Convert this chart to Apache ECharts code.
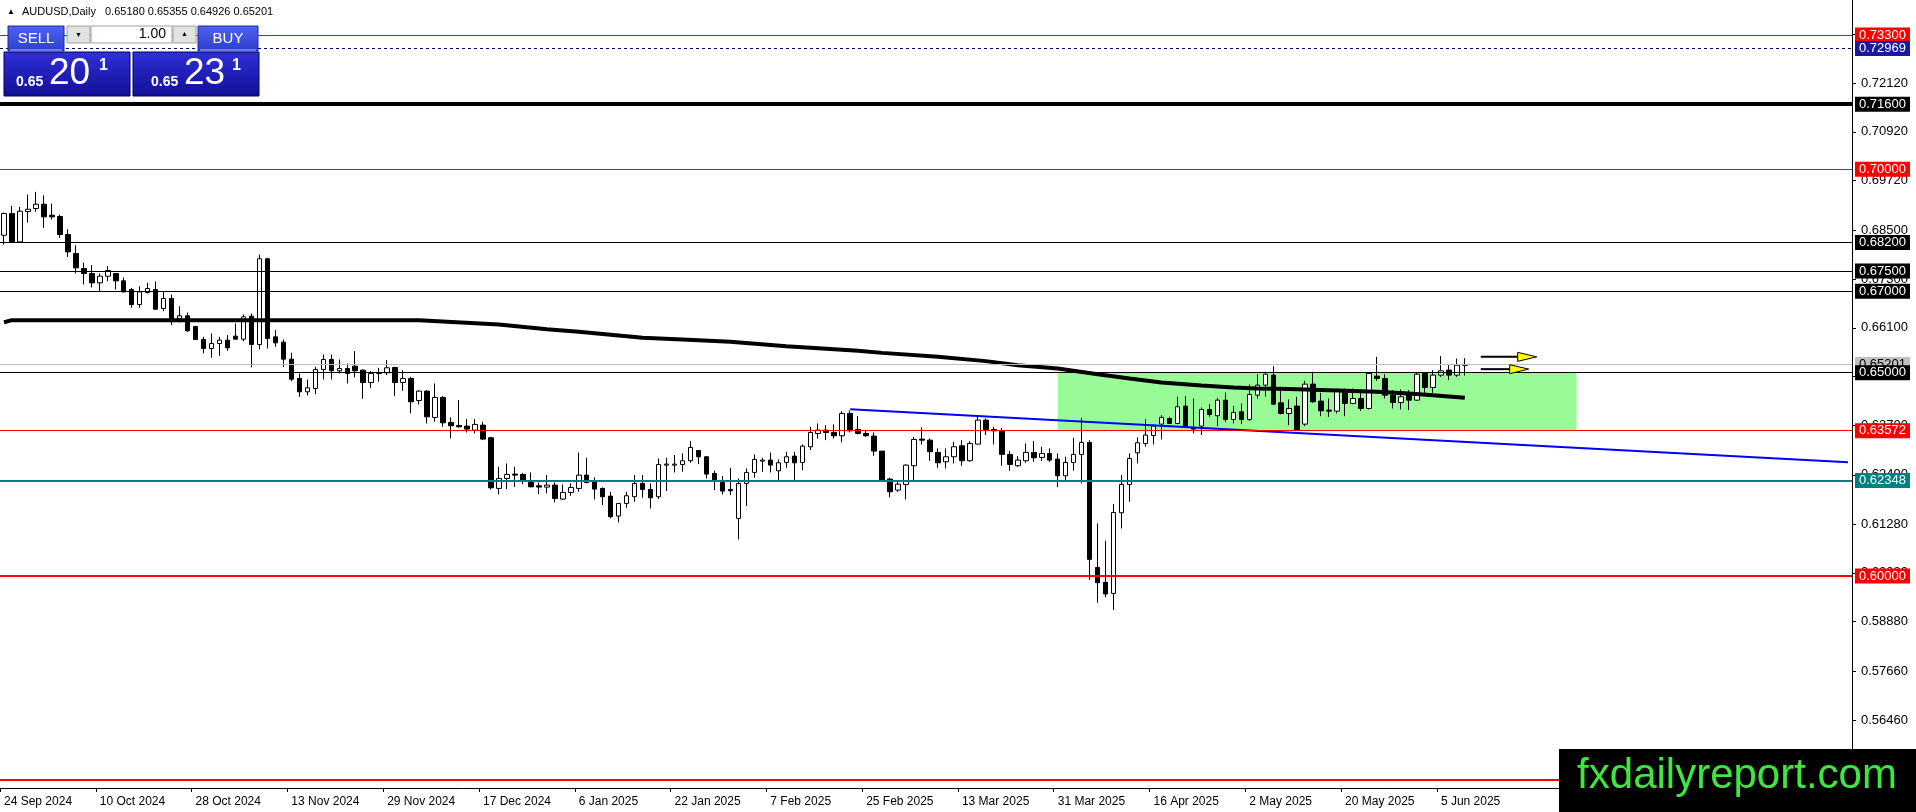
<!DOCTYPE html>
<html><head><meta charset="utf-8">
<script src="https://cdn.jsdelivr.net/npm/echarts@6/dist/echarts.min.js"></script>
<style>html,body{margin:0;padding:0;background:#fff;overflow:hidden}#c{width:1916px;height:812px}</style>
</head><body><div id="c"></div>
<script>
// ---------- DATA ----------
const tradingDays = [
 ['2024-09',[24,25,26,27,30]],
 ['2024-10',[1,2,3,4,7,8,9,10,11,14,15,16,17,18,21,22,23,24,25,28,29,30,31]],
 ['2024-11',[1,4,5,6,7,8,11,12,13,14,15,18,19,20,21,22,25,26,27,28,29]],
 ['2024-12',[2,3,4,5,6,9,10,11,12,13,16,17,18,19,20,23,24,26,27,30,31]],
 ['2025-01',[2,3,6,7,8,9,10,13,14,15,16,17,20,21,22,23,24,27,28,29,30,31]],
 ['2025-02',[3,4,5,6,7,10,11,12,13,14,17,18,19,20,21,24,25,26,27,28]],
 ['2025-03',[3,4,5,6,7,10,11,12,13,14,17,18,19,20,21,24,25,26,27,28,31]],
 ['2025-04',[1,2,3,4,7,8,9,10,11,14,15,16,17,18,21,22,23,24,25,28,29,30]],
 ['2025-05',[1,2,5,6,7,8,9,12,13,14,15,16,19,20,21,22,23,26,27,28,29,30]],
 ['2025-06',[2,3,4,5,6,9,10]]
];
const futureSlots = 48;
const monthNames = ['Jan','Feb','Mar','Apr','May','Jun','Jul','Aug','Sep','Oct','Nov','Dec'];

// [open, close, low, high]
const candles = [
[0.68378,0.68911,0.68149,0.68935],[0.68911,0.68215,0.6819,0.69099],[0.68215,0.68968,0.6819,0.69075],[0.6896,0.69017,0.6869,0.69378],
[0.69034,0.6914,0.68952,0.69443],[0.6914,0.68829,0.68559,0.69361],[0.6887,0.68829,0.68763,0.69157],[0.68837,0.68395,0.68313,0.68886],
[0.68395,0.67969,0.67846,0.68526],[0.67928,0.67576,0.67437,0.68133],[0.67559,0.67437,0.67166,0.67707],[0.67437,0.67207,0.67093,0.67641],
[0.67207,0.67371,0.67003,0.67437],[0.67371,0.6751,0.67248,0.67617],[0.67437,0.67257,0.67044,0.67453],[0.67257,0.66986,0.6697,0.67338],
[0.67044,0.66675,0.66593,0.67084],[0.66675,0.66986,0.66593,0.67125],[0.6697,0.67068,0.66945,0.67207],[0.67044,0.6656,0.66552,0.6724],
[0.66577,0.66822,0.66511,0.66986],[0.66822,0.66331,0.66167,0.66921],[0.66331,0.66397,0.66233,0.66634],[0.66397,0.66028,0.66003,0.66478],
[0.66134,0.65815,0.658,0.6615],[0.65815,0.65594,0.65471,0.65881],[0.65594,0.65717,0.65365,0.65962],[0.65717,0.65799,0.65414,0.65881],
[0.65799,0.6561,0.65537,0.65921],[0.65897,0.65823,0.65815,0.66208],[0.65823,0.66372,0.65774,0.66429],[0.66388,0.65693,0.65128,0.66454],
[0.65693,0.67798,0.6557,0.67904],[0.67798,0.6584,0.65595,0.67823],[0.6588,0.65733,0.65635,0.6605],[0.65749,0.65332,0.65143,0.65815],
[0.65332,0.6484,0.64791,0.65487],[0.64857,0.64529,0.64406,0.6498],[0.64529,0.64627,0.64439,0.64832],[0.64611,0.65078,0.64472,0.65143],
[0.65078,0.65324,0.64832,0.65446],[0.65324,0.65045,0.64832,0.65446],[0.65045,0.65102,0.6498,0.65324],[0.65102,0.6498,0.64734,0.65225],
[0.6516,0.65045,0.64881,0.65528],[0.65061,0.64758,0.64357,0.65078],[0.64758,0.6498,0.64627,0.65037],[0.6498,0.65004,0.64775,0.65119],
[0.64996,0.65119,0.64939,0.65307],[0.65127,0.64758,0.64431,0.65143],[0.64758,0.64857,0.64554,0.65061],[0.64857,0.64283,0.63997,0.64898],
[0.64316,0.64546,0.64218,0.6457],[0.64546,0.63915,0.63751,0.6457],[0.63899,0.6439,0.63792,0.64734],[0.6439,0.63767,0.63669,0.64423],
[0.63776,0.63694,0.63383,0.63899],[0.63702,0.63669,0.63653,0.64324],[0.63686,0.63612,0.6353,0.63858],[0.63587,0.63727,0.63505,0.63858],
[0.6371,0.63366,0.63342,0.63792],[0.63399,0.6217,0.62129,0.63423],[0.62154,0.62399,0.62006,0.62686],[0.62399,0.62498,0.62137,0.62768],
[0.62506,0.62481,0.62195,0.62686],[0.62498,0.62359,0.62252,0.6253],[0.62301,0.62195,0.62178,0.62547],[0.62219,0.62187,0.62015,0.62301],
[0.62187,0.62236,0.62031,0.62481],[0.62236,0.61908,0.6181,0.62301],[0.61892,0.62056,0.61867,0.62252],[0.62056,0.62178,0.61974,0.62277],
[0.62154,0.62481,0.62072,0.63038],[0.62481,0.62301,0.62277,0.62907],[0.62318,0.62137,0.61884,0.62424],[0.62154,0.61949,0.61744,0.62178],
[0.61965,0.61458,0.61417,0.62072],[0.61474,0.61785,0.61318,0.61785],[0.61785,0.61974,0.61679,0.62072],[0.61949,0.62277,0.61826,0.62481],
[0.62277,0.62129,0.61924,0.62481],[0.62129,0.61924,0.61662,0.62277],[0.61949,0.62743,0.61892,0.62891],[0.62727,0.62752,0.62088,0.62907],
[0.62727,0.62752,0.62547,0.62973],[0.62743,0.62834,0.62563,0.63014],[0.62834,0.63161,0.62784,0.63317],[0.63087,0.62932,0.62752,0.63096],
[0.62932,0.62506,0.62399,0.62948],[0.62522,0.62359,0.62113,0.62588],[0.62301,0.62088,0.62006,0.62457],[0.62129,0.62097,0.6199,0.62662],
[0.61417,0.62277,0.60901,0.62399],[0.62277,0.62547,0.6172,0.62645],[0.62547,0.62866,0.62416,0.62989],[0.62825,0.6285,0.62563,0.62907],
[0.6285,0.62727,0.62547,0.63038],[0.62588,0.62784,0.62359,0.62866],[0.62793,0.62932,0.62662,0.63055],[0.62948,0.62784,0.62359,0.63055],
[0.62793,0.63194,0.62604,0.63235],[0.63178,0.6353,0.63096,0.63669],[0.63505,0.63587,0.63382,0.63751],[0.63587,0.6353,0.63341,0.6371],
[0.6353,0.63448,0.63382,0.63726],[0.63448,0.63997,0.63284,0.64054],[0.63997,0.63571,0.6353,0.6407],[0.63603,0.63505,0.63481,0.63931],
[0.63505,0.63448,0.63423,0.63562],[0.6344,0.63071,0.62956,0.6353],[0.63071,0.62342,0.6232,0.63071],[0.62383,0.62072,0.61933,0.62416],
[0.62113,0.6226,0.62072,0.62342],[0.62252,0.62727,0.61884,0.6275],[0.62711,0.63358,0.62359,0.63423],[0.63366,0.63341,0.63235,0.63653],
[0.63341,0.63055,0.62834,0.63382],[0.63038,0.62784,0.62662,0.63137],[0.62809,0.62932,0.62645,0.63137],[0.62932,0.63178,0.62768,0.633],
[0.63202,0.62834,0.62711,0.63341],[0.62834,0.63259,0.62809,0.63317],[0.63243,0.63833,0.63235,0.63915],[0.63833,0.63603,0.63464,0.63874],
[0.63603,0.6357,0.63235,0.63669],[0.63563,0.6299,0.62711,0.63645],[0.6299,0.62744,0.62588,0.63071],[0.62711,0.6285,0.62686,0.62949],
[0.62834,0.63039,0.62785,0.6326],[0.63039,0.62908,0.62809,0.63317],[0.62916,0.63014,0.62826,0.63178],[0.63014,0.6285,0.62809,0.63137],
[0.62875,0.62465,0.62195,0.63014],[0.62465,0.62793,0.62359,0.62932],[0.62793,0.6299,0.62588,0.63399],[0.6299,0.63284,0.62277,0.6389],
[0.63284,0.6041,0.59902,0.63342],[0.60213,0.59836,0.59345,0.61294],[0.59845,0.59558,0.59476,0.60868],[0.59574,0.61564,0.59165,0.61769],
[0.61556,0.62252,0.61171,0.62482],[0.62252,0.62891,0.61827,0.63014],[0.6303,0.63276,0.62768,0.63407],[0.6326,0.63465,0.63178,0.63858],
[0.63456,0.63686,0.63235,0.63735],[0.63735,0.63899,0.63358,0.63956],[0.63874,0.63751,0.63735,0.63915],[0.63751,0.64161,0.63735,0.64406],
[0.64177,0.63686,0.63653,0.64423],[0.63653,0.63612,0.63505,0.64365],[0.63686,0.64095,0.63465,0.64144],[0.64095,0.63972,0.63915,0.64226],
[0.6394,0.64324,0.63686,0.64382],[0.64324,0.63849,0.63792,0.64513],[0.63849,0.64021,0.63751,0.64177],[0.64038,0.63849,0.63735,0.64243],
[0.63849,0.64464,0.63817,0.64709],[0.64447,0.64693,0.64365,0.64963],[0.64693,0.64963,0.64406,0.65021],[0.64939,0.64226,0.64202,0.6516],
[0.64259,0.63997,0.63972,0.64652],[0.63997,0.6412,0.6371,0.64341],[0.64177,0.63587,0.63571,0.64406],[0.63735,0.64718,0.63686,0.648],
[0.64718,0.64284,0.64259,0.65021],[0.643,0.64062,0.63931,0.64505],[0.64079,0.64054,0.63915,0.64365],[0.64054,0.64546,0.63997,0.64611],
[0.64546,0.64243,0.63931,0.64611],[0.64243,0.64365,0.64226,0.64611],[0.64365,0.6412,0.64062,0.64587],[0.6412,0.6498,0.64095,0.64996],
[0.64914,0.64857,0.648,0.65389],[0.64857,0.64447,0.64365,0.64963],[0.64447,0.64267,0.6412,0.6457],[0.64267,0.64406,0.64095,0.64587],
[0.64513,0.64324,0.64079,0.6457],[0.64324,0.64963,0.64308,0.64996],[0.6498,0.64636,0.64488,0.64996],[0.64636,0.64939,0.64505,0.65062],
[0.64939,0.65045,0.64898,0.65406],[0.65062,0.64939,0.64816,0.65184],[0.64939,0.65184,0.64898,0.65348],[0.6518,0.65201,0.64926,0.65355]
];

// moving average read at [bar index, price]
const maPoints = [[0,0.6624],[1,0.6629],[52,0.6629],[62,0.66184],[68,0.66069],[72,0.66003],[80,0.65855],[85,0.65816],[91,0.65757],
 [98,0.65651],[107,0.65536],[110,0.65486],[117,0.65388],[123,0.65283],[127,0.65184],[132,0.65103],[137,0.64963],[141,0.64857],
 [145,0.64759],[150,0.64685],[154,0.64636],[157,0.64612],[161,0.64595],[172,0.64528],[176,0.64489],[179,0.64447],[183,0.64381]];

const trendLine = [[106,0.6410],[231,0.6280]];
const zoneBars = [132,197];
const zonePrices = [0.65,0.63572];
// [start bar, tip bar, price]
const arrows = [[185,192,0.65388],[185,191,0.65086]];

const levelPrices = [0.733,0.72969,0.716,0.70,0.682,0.675,0.670,0.65201,0.650,0.63572,0.62348,0.600,0.550];
const priceTicks = [0.7332,0.7212,0.7092,0.6972,0.6850,0.6730,0.6610,0.6490,0.6370,0.6249,0.6128,0.6008,0.5888,0.5766,0.5646];
const yRange = [0.5479,0.7416];
const lastBar = {symbol:'AUDUSD,Daily', o:0.65180, h:0.65355, l:0.64926, c:0.65201};
const quote = {bidBig:'0.65', bidPips:'20', bidFrac:'1', askBig:'0.65', askPips:'23', askFrac:'1', lot:'1.00'};

// ---------- BUILD ----------
const categories = [];
tradingDays.forEach(([ym, days]) => days.forEach(d => categories.push(ym + '-' + String(d).padStart(2,'0'))));
const nReal = categories.length;
for (let k = 0; k < futureSlots; k++) categories.push('+' + k);

function fmtDate(v){
  if (v[0] === '+') return '';
  const p = v.split('-');
  return (+p[2]) + ' ' + monthNames[+p[1]-1] + ' ' + p[0];
}
const showIdx = (i, v) => i % 12 === 0 && i < nReal;

const levelStyle = [
  {c:'#ff0000', w:1, bg:'#ff0000', fg:'#fff'},
  {c:'#000060', w:1, t:[3,3], bg:'#1a1a9a', fg:'#fff'},
  {c:'#000000', w:4, bg:'#000', fg:'#fff'},
  {c:'#ff0000', w:1, bg:'#ff0000', fg:'#fff'},
  {c:'#000000', w:1, bg:'#000', fg:'#fff'},
  {c:'#000000', w:1, bg:'#000', fg:'#fff'},
  {c:'#000000', w:1, bg:'#000', fg:'#fff'},
  {c:'#c0c0c0', w:1, bg:'#c0c0c0', fg:'#000'},
  {c:'#000000', w:1, bg:'#000', fg:'#fff'},
  {c:'#ff0000', w:1, bg:'#ff0000', fg:'#fff'},
  {c:'#008080', w:2, bg:'#008080', fg:'#fff'},
  {c:'#ff0000', w:2, bg:'#ff0000', fg:'#fff'},
  {c:'#ff0000', w:2, bg:'#ff0000', fg:'#fff'}
];
const FONT = 'Liberation Sans, Arial, sans-serif';
const markLineData = levelPrices.map((v, i) => ({
  yAxis: v,
  lineStyle: {color: levelStyle[i].c, width: levelStyle[i].w, type: levelStyle[i].t || 'solid'},
  label: {show:true, position:'end', distance:3, formatter: v.toFixed(5), color: levelStyle[i].fg,
          backgroundColor: levelStyle[i].bg, padding:[1,4,0,4], fontSize:13, fontFamily:FONT, lineHeight:14}
}));

const chart = echarts.init(document.getElementById('c'), null, {renderer:'canvas'});

const grad = (a, b) => new echarts.graphic.LinearGradient(0,0,0,1,[{offset:0,color:a},{offset:1,color:b}]);
const T = (x, y, text, font, fill, align, va) => ({type:'text', z:100, style:{x, y, text, font, fill, align: align||'left', verticalAlign: va||'middle'}});

const graphics = [
  // header
  T(7, 12, '\u25B2', '8px ' + FONT, '#000'),
  T(22, 12, lastBar.symbol, '11px ' + FONT, '#000'),
  T(105, 12, [lastBar.o, lastBar.h, lastBar.l, lastBar.c].map(x => x.toFixed(5)).join(' '), '11px ' + FONT, '#000'),
  // one click panel
  {type:'rect', z:99, shape:{x:4, y:52, width:126, height:44}, style:{fill: grad('#3030d8','#101094'), stroke:'#000060', lineWidth:1}},
  {type:'rect', z:99, shape:{x:133, y:52, width:126, height:44}, style:{fill: grad('#3030d8','#101094'), stroke:'#000060', lineWidth:1}},
  {type:'rect', z:99, shape:{x:8, y:26, width:56, height:25}, style:{fill: grad('#5062f0','#2c3ed0'), stroke:'#1a2aa0', lineWidth:1}},
  {type:'rect', z:99, shape:{x:198, y:26, width:60, height:25}, style:{fill: grad('#5062f0','#2c3ed0'), stroke:'#1a2aa0', lineWidth:1}},
  {type:'line', z:100, shape:{x1:10, y1:50, x2:62, y2:50}, style:{stroke:'#b8c0f8', lineWidth:1}},
  {type:'line', z:100, shape:{x1:200, y1:50, x2:256, y2:50}, style:{stroke:'#b8c0f8', lineWidth:1}},
  {type:'rect', z:99, shape:{x:67, y:26, width:23, height:17}, style:{fill:'#e2e2e2', stroke:'#a0a0a0', lineWidth:1}},
  {type:'rect', z:99, shape:{x:91, y:26, width:81, height:17}, style:{fill:'#ffffff', stroke:'#a0a0a0', lineWidth:1}},
  {type:'rect', z:99, shape:{x:173, y:26, width:23, height:17}, style:{fill:'#e2e2e2', stroke:'#a0a0a0', lineWidth:1}},
  T(78.5, 35, '\u25BC', '7px ' + FONT, '#000', 'center'),
  T(184.5, 34, '\u25B2', '7px ' + FONT, '#000', 'center'),
  T(166, 34.5, quote.lot, '14px ' + FONT, '#000', 'right'),
  T(36, 39, 'SELL', '15px ' + FONT, '#fff', 'center'),
  T(228, 39, 'BUY', '15px ' + FONT, '#fff', 'center'),
  T(16, 82, quote.bidBig, 'bold 14px ' + FONT, '#fff'),
  T(49, 74, quote.bidPips, '37px ' + FONT, '#fff'),
  T(99, 66, quote.bidFrac, 'bold 16px ' + FONT, '#fff'),
  T(151, 82, quote.askBig, 'bold 14px ' + FONT, '#fff'),
  T(184, 74, quote.askPips, '37px ' + FONT, '#fff'),
  T(232, 66, quote.askFrac, 'bold 16px ' + FONT, '#fff'),
  // watermark
  {type:'rect', z:100, shape:{x:1559, y:749, width:357, height:63}, style:{fill:'#000'}},
  T(1737, 776, 'fxdailyreport.com', '42px ' + FONT, '#3ee63e', 'center')
];

chart.setOption({
  animation: false,
  backgroundColor: '#ffffff',
  grid: {left:0, top:0, width:1852, height:788, containLabel:false},
  xAxis: {
    type:'category', data: categories, boundaryGap:true,
    axisLine:{show:true, lineStyle:{color:'#000', width:1}},
    axisTick:{show:true, interval: showIdx, length:4, lineStyle:{color:'#000'}},
    axisLabel:{interval: showIdx, formatter: fmtDate, align:'left', color:'#000', fontSize:12, fontFamily:FONT, margin:8},
    splitLine:{show:false}
  },
  yAxis: {
    type:'value', position:'right', min:yRange[0], max:yRange[1], scale:true,
    axisLine:{show:true, lineStyle:{color:'#000', width:1}},
    axisTick:{show:true, length:4, customValues: priceTicks, lineStyle:{color:'#000'}},
    axisLabel:{customValues: priceTicks, formatter: v => v.toFixed(5), color:'#000', fontSize:13, fontFamily:FONT, margin:9},
    splitLine:{show:false}
  },
  graphic: graphics,
  series: [
    {
      type:'candlestick', name:'AUDUSD', data: candles, barWidth:5, z:2,
      itemStyle:{color:'#ffffff', color0:'#000000', borderColor:'#000000', borderColor0:'#000000', borderWidth:1},
      markArea:{silent:true, itemStyle:{color:'#98fb98', opacity:1},
        data:[[{coord:[zoneBars[0], zonePrices[0]]},{coord:[zoneBars[1], zonePrices[1]]}]]},
      markLine:{silent:true, precision:5, symbol:['none','none'], animation:false, data: markLineData}
    },
    {
      type:'line', name:'MA', data: maPoints, symbol:'none', z:3, smooth:false,
      lineStyle:{color:'#000', width:4}
    },
    {
      type:'line', name:'trend', data: trendLine, symbol:'none', z:4,
      lineStyle:{color:'#0000ff', width:2}
    },
    {
      type:'custom', name:'arrows', data: arrows, z:6,
      renderItem: function(params, api){
        const p0 = api.coord([api.value(0), api.value(2)]);
        const pt = api.coord([api.value(1), api.value(2)]);
        const headLen = 19, half = 4.5;
        const bx = pt[0] - headLen;
        return {type:'group', children:[
          {type:'line', shape:{x1:p0[0], y1:p0[1], x2:bx, y2:p0[1]}, style:{stroke:'#000', lineWidth:2}},
          {type:'polygon', shape:{points:[[bx, pt[1]-half],[pt[0], pt[1]],[bx, pt[1]+half]]}, style:{fill:'#ffff00', stroke:'#000', lineWidth:1}}
        ]};
      }
    }
  ]
});
</script></body></html>
